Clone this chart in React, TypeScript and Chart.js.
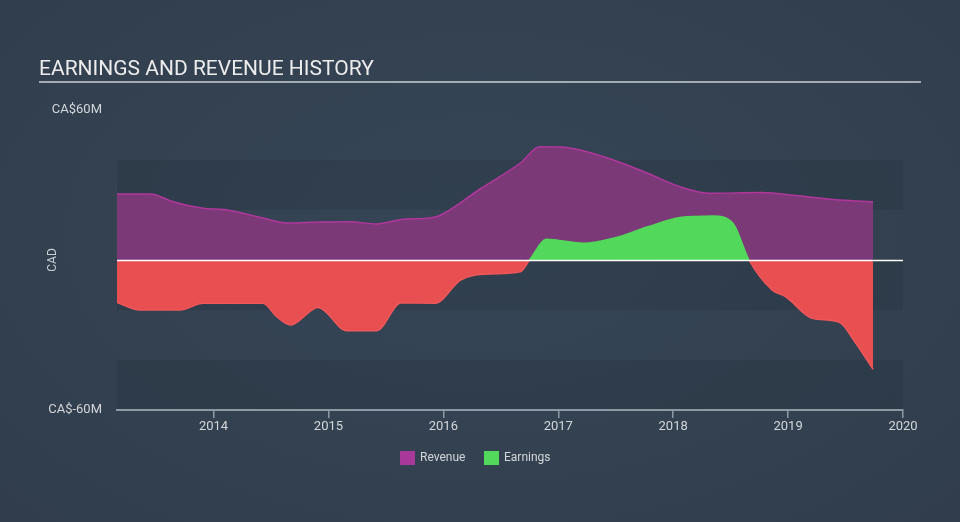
import React, { useEffect, useRef } from 'react';
import { Chart, registerables } from 'chart.js';

Chart.register(...registerables);

const TITLE = 'EARNINGS AND REVENUE HISTORY';
const AXIS_TITLE = 'CAD';
const yTickValues = [-60, 60];
const yTickLabels = ['CA$-60M', 'CA$60M'];
const xTickYears = [2014, 2015, 2016, 2017, 2018, 2019, 2020];
const bandRanges = [[20, 40], [-20, 0], [-60, -40]];
const legendLabels = ['Revenue', 'Earnings'];

const revenueYears = [2013.16, 2013.45, 2013.65, 2013.91, 2014.12, 2014.43, 2014.64, 2014.93, 2015.19, 2015.42, 2015.65, 2015.88, 2015.97, 2016.32, 2016.67, 2016.84, 2017.02, 2017.19, 2017.48, 2017.78, 2018.06, 2018.32, 2018.76, 2019.11, 2019.45, 2019.74];
const revenue = [26.4, 26.4, 23.3, 20.7, 20.0, 16.8, 14.8, 15.2, 15.3, 14.4, 16.3, 16.8, 17.8, 28.4, 38.8, 45.3, 45.2, 44.0, 40.0, 34.7, 29.3, 26.7, 27.0, 25.6, 24.0, 23.3];

const earningsYears = [2013.16, 2013.36, 2013.71, 2013.91, 2014.43, 2014.55, 2014.67, 2014.91, 2015.16, 2015.42, 2015.63, 2015.93, 2016.15, 2016.41, 2016.67, 2016.75, 2016.90, 2017.22, 2017.48, 2017.78, 2018.06, 2018.35, 2018.52, 2018.66, 2018.86, 2018.98, 2019.21, 2019.45, 2019.57, 2019.74];
const earnings = [-17, -20, -20, -17.3, -17.3, -22.7, -26, -19, -28.3, -28.3, -17.2, -17.3, -8, -5.6, -4.7, 0, 8.3, 6.7, 8.7, 13.3, 17, 17.6, 14.7, 0, -12, -14.7, -23.3, -25, -32, -43.7];

const COLORS = {
  revenueFill: '#7b3977',
  revenueLine: '#b1379d',
  revenueLegend: '#a8399a',
  green: '#52d85a',
  red: '#e84f50',
  redLine: '#f0575a',
  text: '#d3d7db',
  title: '#ececec',
  axis: '#8e99a6',
};

const decorPlugin = {
  id: 'decor',
  beforeDraw(chart: any) {
    const { ctx, chartArea, scales } = chart;
    const y = scales.y;
    ctx.save();
    ctx.fillStyle = 'rgba(28,38,50,0.2)';
    for (const [lo, hi] of bandRanges) {
      const top = y.getPixelForValue(hi);
      const bot = y.getPixelForValue(lo);
      ctx.fillRect(chartArea.left, top, chartArea.right - chartArea.left, bot - top);
    }
    ctx.font = '21px Roboto';
    ctx.fillStyle = COLORS.title;
    ctx.textAlign = 'left';
    ctx.textBaseline = 'alphabetic';
    ctx.fillText(TITLE, 39, 75);
    ctx.fillStyle = '#a3abb3';
    ctx.fillRect(39, 81, 882, 2);

    // legend
    ctx.font = '12px Roboto';
    ctx.textBaseline = 'middle';
    ctx.fillStyle = COLORS.revenueLegend;
    ctx.fillRect(400, 451, 15, 14);
    ctx.fillStyle = COLORS.text;
    ctx.fillText(legendLabels[0], 420, 458);
    ctx.fillStyle = COLORS.green;
    ctx.fillRect(484, 451, 15, 14);
    ctx.fillStyle = COLORS.text;
    ctx.fillText(legendLabels[1], 504, 458);

    ctx.translate(53, (chartArea.top + chartArea.bottom) / 2);
    ctx.rotate(-Math.PI / 2);
    ctx.font = '12px Roboto';
    ctx.textAlign = 'center';
    ctx.textBaseline = 'middle';
    ctx.fillStyle = '#c9ced3';
    ctx.fillText(AXIS_TITLE, 0, 0);
    ctx.restore();
  },
  afterDatasetsDraw(chart: any) {
    const { ctx, chartArea, scales } = chart;
    const y0 = Math.round(scales.y.getPixelForValue(0)) + 0.5;
    ctx.save();
    ctx.strokeStyle = '#ffffff';
    ctx.lineWidth = 1.5;
    ctx.beginPath();
    ctx.moveTo(chartArea.left, y0);
    ctx.lineTo(chartArea.right, y0);
    ctx.stroke();
    ctx.restore();
  },
};

export default function App() {
  const ref = useRef<HTMLCanvasElement | null>(null);

  useEffect(() => {
    document.body.style.margin = '0';
    if (!ref.current) return;
    const chart = new Chart(ref.current, {
      type: 'line',
      data: {
        datasets: [
          {
            label: legendLabels[1],
            data: earningsYears.map((x, i) => ({ x, y: earnings[i] })),
            borderWidth: 1.5,
            borderColor: COLORS.redLine,
            segment: {
              borderColor: (c: any) => ((c.p0.parsed.y + c.p1.parsed.y) / 2 >= 0 ? COLORS.green : COLORS.redLine),
            },
            fill: { target: 'origin', above: COLORS.green, below: COLORS.red },
            pointRadius: 0,
            cubicInterpolationMode: 'monotone',
          },
          {
            label: legendLabels[0],
            data: revenueYears.map((x, i) => ({ x, y: revenue[i] })),
            borderWidth: 1.5,
            borderColor: COLORS.revenueLine,
            backgroundColor: COLORS.revenueFill,
            fill: 'origin',
            pointRadius: 0,
            cubicInterpolationMode: 'monotone',
          },
        ],
      },
      options: {
        animation: false,
        responsive: true,
        maintainAspectRatio: false,
        layout: { padding: { top: 110, right: 57, left: 0, bottom: 0 } },
        plugins: { legend: { display: false }, title: { display: false }, tooltip: { enabled: false } },
        scales: {
          x: {
            type: 'linear',
            min: revenueYears[0],
            max: 2020,
            afterBuildTicks: (s: any) => { s.ticks = xTickYears.map((v) => ({ value: v })); },
            afterFit: (s: any) => { s.height = 112; },
            grid: { drawOnChartArea: false, drawTicks: true, tickLength: 8, color: COLORS.axis, lineWidth: 1.5 },
            border: { display: true, color: COLORS.axis, width: 2 },
            ticks: {
              color: COLORS.text,
              font: { family: 'Roboto', size: 13 },
              padding: 1,
              maxRotation: 0,
              callback: (v: any) => String(v),
            },
          },
          y: {
            min: -60,
            max: 60,
            afterBuildTicks: (s: any) => { s.ticks = yTickValues.map((v) => ({ value: v })); },
            afterFit: (s: any) => { s.width = 117; },
            grid: { display: false, drawTicks: false },
            border: { display: false },
            ticks: {
              color: COLORS.text,
              font: { family: 'Roboto', size: 13 },
              padding: 15,
              callback: (v: any) => yTickLabels[yTickValues.indexOf(Number(v))] ?? '',
            },
          },
        },
      },
      plugins: [decorPlugin],
    } as any);
    return () => chart.destroy();
  }, []);

  return (
    <div
      style={{
        position: 'relative',
        width: 960,
        height: 522,
        background: 'radial-gradient(ellipse at 50% 45%, #364657 0%, #313d4c 100%)',
      }}
    >
      <canvas ref={ref} />
    </div>
  );
}
